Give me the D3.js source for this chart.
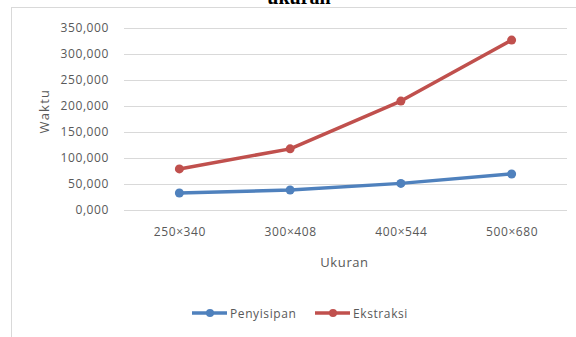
<!DOCTYPE html>
<html>
<head>
<meta charset="utf-8">
<script src="https://cdn.jsdelivr.net/npm/d3@7"></script>
<style>
  body { margin: 0; background: #fff; }
  svg { display: block; }
  .tick text { font-family: "Open Sans", sans-serif; fill: #595959; }
</style>
</head>
<body>
<figure id="chart" style="margin:0"></figure>
<script>
const categories = ['250×340', '300×408', '400×544', '500×680'];
const penyisipan = [32600, 38400, 51200, 69300];
const ekstraksi = [79000, 117600, 209500, 326800];
const yTicks = [0, 50000, 100000, 150000, 200000, 250000, 300000, 350000];

const series = [
        { name: 'Penyisipan', values: penyisipan, color: '#4F81BD' },
        { name: 'Ekstraksi', values: ekstraksi, color: '#C0504D' },
];

const dimensions = {
        width: 576,
        height: 337,
        margin: {
                top: 28,
                right: 9,
                bottom: 127,
                left: 124,
        },
};

dimensions.boundedWidth = dimensions.width - dimensions.margin.left - dimensions.margin.right;
dimensions.boundedHeight = dimensions.height - dimensions.margin.top - dimensions.margin.bottom;

const root = d3.select('figure#chart')
        .append('svg')
        .attr('width', dimensions.width)
        .attr('height', dimensions.height);

// chart frame, runs off the right and bottom edge
root.append('rect')
        .attr('x', 11.5)
        .attr('y', 7.5)
        .attr('width', 700)
        .attr('height', 400)
        .attr('fill', 'none')
        .attr('stroke', '#d9d9d9');

// caption text cut off at top (as in the source)
root.append('text')
        .attr('x', 299)
        .attr('y', 4)
        .attr('text-anchor', 'middle')
        .style('font-family', '"Liberation Serif", serif')
        .style('font-weight', 'bold')
        .style('font-size', '20px')
        .attr('fill', '#000')
        .text('ukuran');

const svg = root.append('g')
        .attr('transform', `translate(${dimensions.margin.left}, ${dimensions.margin.top})`);

const xScale = d3.scalePoint()
        .domain(categories)
        .range([0, dimensions.boundedWidth])
        .padding(0.5);

const yScale = d3.scaleLinear()
        .domain([0, 350000])
        .range([dimensions.boundedHeight, 0]);

const fmt = d => d3.format(',')(d / 1000) + ',000';

// gridlines
const yAxis = svg.append('g')
        .call(d3.axisLeft(yScale)
                .tickValues(yTicks)
                .tickSize(-dimensions.boundedWidth)
                .tickPadding(15)
                .tickFormat(d => (d === 0 ? '0,000' : fmt(d))));
yAxis.select('.domain').remove();
yAxis.selectAll('.tick line').attr('stroke', '#d9d9d9');
yAxis.selectAll('.tick text').style('font-size', '12px').attr('letter-spacing', '0.6px');

const xAxis = svg.append('g')
        .attr('transform', `translate(0,${dimensions.boundedHeight})`)
        .call(d3.axisBottom(xScale).tickSize(0).tickPadding(17));
xAxis.select('.domain').remove();
xAxis.selectAll('.tick text').style('font-size', '12px').attr('letter-spacing', '0.6px');

// axis titles
svg.append('text')
        .attr('x', dimensions.boundedWidth / 2 - 1)
        .attr('y', dimensions.boundedHeight + 57)
        .attr('text-anchor', 'middle')
        .style('font-family', '"Open Sans", sans-serif')
        .style('font-size', '13px')
        .attr('letter-spacing', '0.6px')
        .attr('fill', '#595959')
        .text('Ukuran');

svg.append('text')
        .attr('transform', `translate(-75,${yScale(190000)}) rotate(-90)`)
        .attr('text-anchor', 'middle')
        .style('font-family', '"Open Sans", sans-serif')
        .style('font-size', '13px')
        .attr('letter-spacing', '1.2px')
        .attr('fill', '#595959')
        .text('Waktu');

const line = d3.line()
        .x((d, i) => xScale(categories[i]))
        .y(d => yScale(d));

series.forEach(s => {
        svg.append('path')
                .datum(s.values)
                .attr('d', line)
                .attr('fill', 'none')
                .attr('stroke', s.color)
                .attr('stroke-width', 3.5)
                .attr('stroke-linejoin', 'round')
                .attr('stroke-linecap', 'round');

        svg.selectAll(null)
                .data(s.values)
                .enter()
                .append('circle')
                .attr('cx', (d, i) => xScale(categories[i]))
                .attr('cy', d => yScale(d))
                .attr('r', 4.5)
                .attr('fill', s.color);
});

// legend
const legendItems = [
        { x: 192, textX: 230 },
        { x: 315, textX: 353 },
];
series.forEach((s, i) => {
        const g = root.append('g')
                .attr('transform', `translate(${legendItems[i].x},313)`);
        g.append('line')
                .attr('x1', 0)
                .attr('x2', 35)
                .attr('stroke', s.color)
                .attr('stroke-width', 3.5);
        g.append('circle')
                .attr('cx', 18)
                .attr('r', 4)
                .attr('fill', s.color);
        g.append('text')
                .attr('x', legendItems[i].textX - legendItems[i].x)
                .attr('y', 4.5)
                .style('font-family', '"Open Sans", sans-serif')
                .style('font-size', '12px')
                .attr('letter-spacing', '0.6px')
                .attr('fill', '#595959')
                .text(s.name);
});
</script>
</body>
</html>
